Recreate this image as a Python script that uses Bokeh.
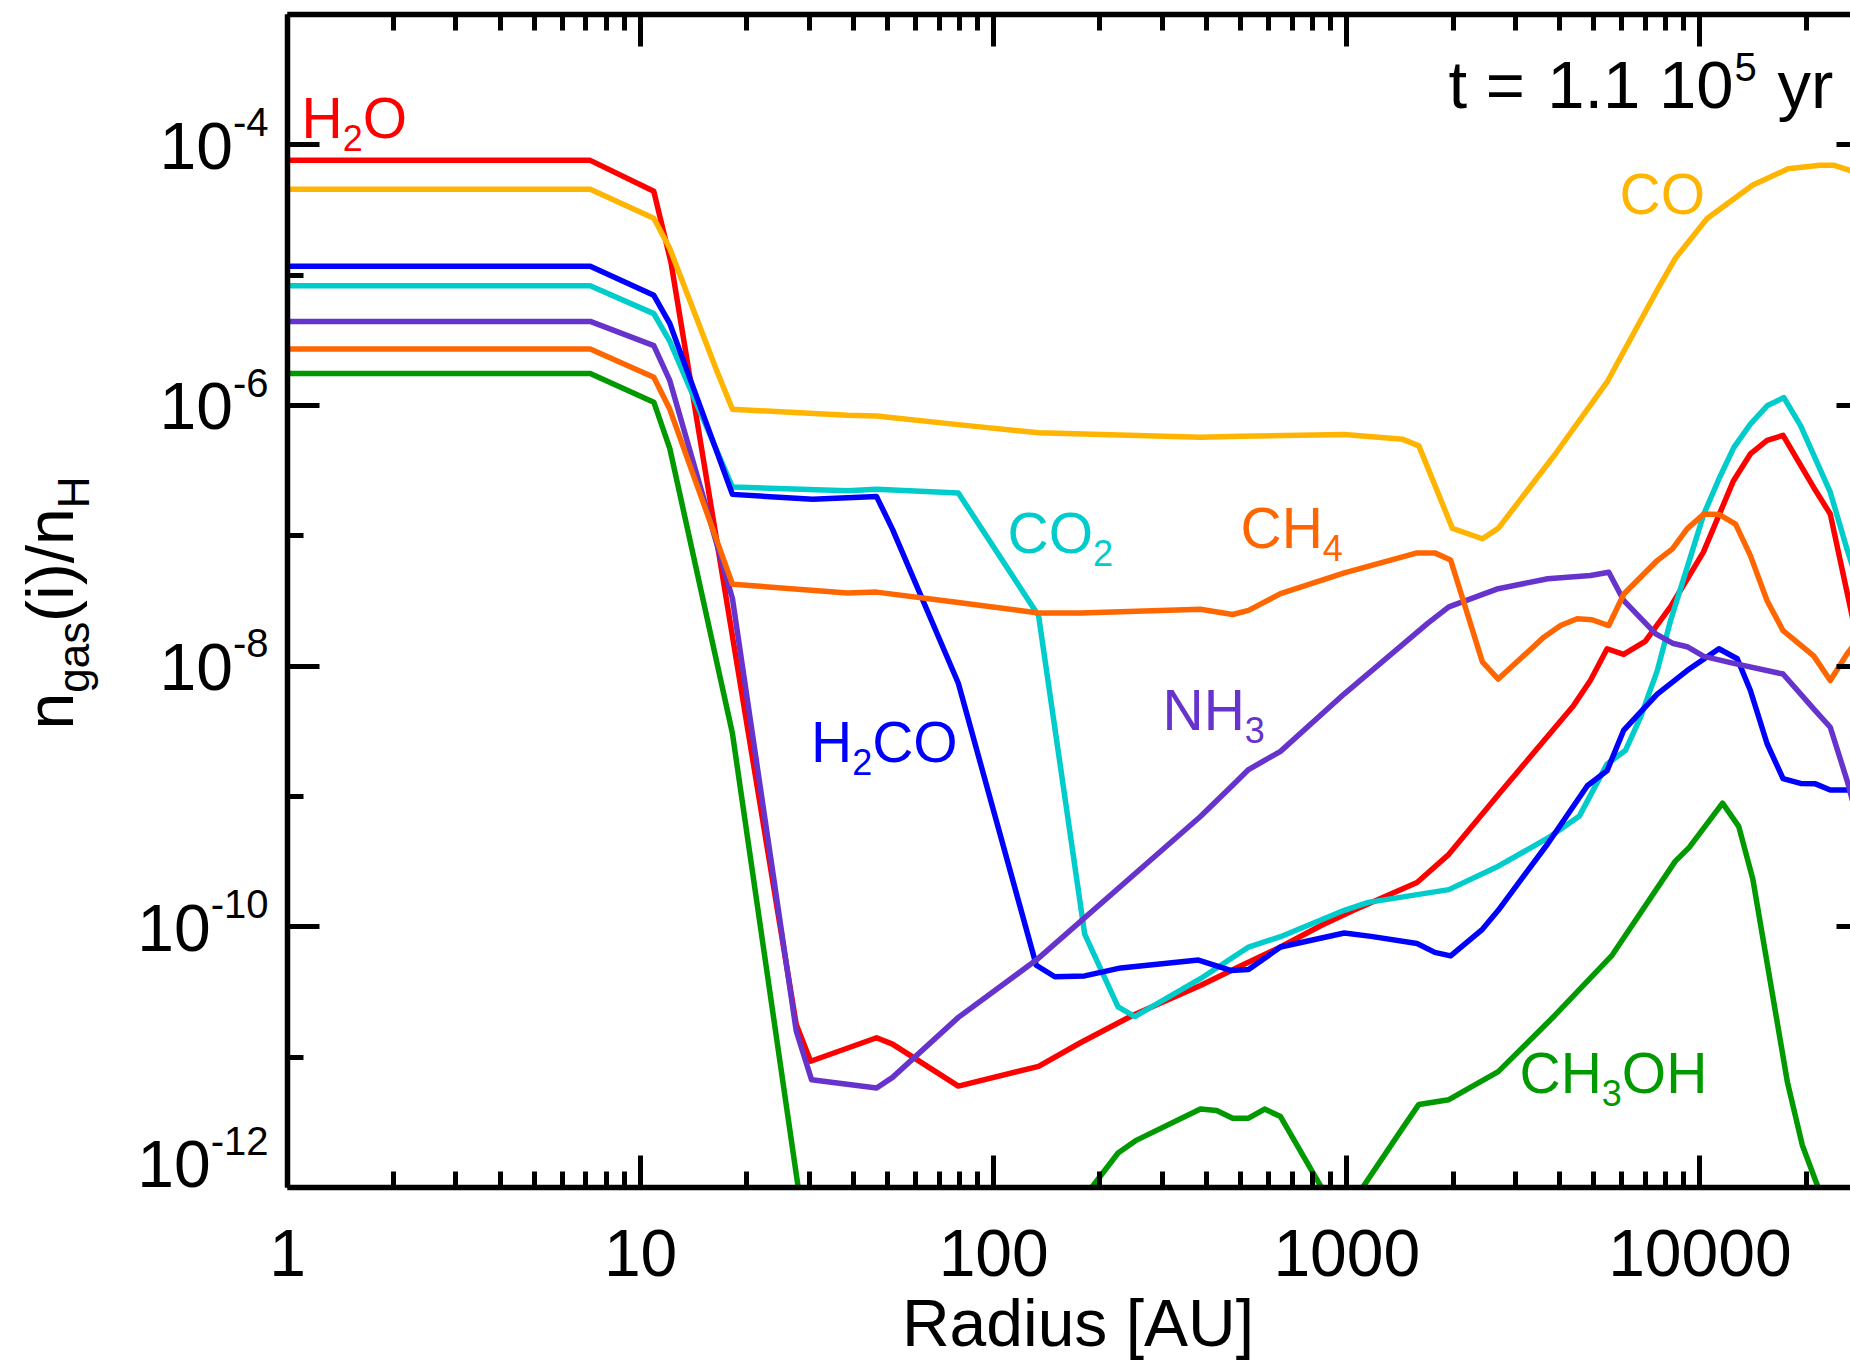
import math
import re
from bokeh.plotting import figure
from bokeh.models import (Range1d, FixedTicker, LogAxis, Label, BoxAnnotation,
                          CustomJSTickFormatter, PrintfTickFormatter)
from bokeh.embed import file_html
from bokeh.resources import INLINE

# ---------------- data (radius in AU, gas abundance n_gas(i)/n_H) ----------------
h2o_r = [1, 7.2, 10.9, 12.2, 27.6, 30.3, 46.6, 51.7, 79.4, 134, 176, 247, 385, 500, 649,
         843, 1038, 1581, 1945, 2685, 4390, 4900, 5460, 6080, 7000, 8300, 10230, 12450,
         13900, 15500, 17200, 21000, 23400, 26100, 28500]
h2o_n = [7.6e-5, 7.6e-5, 4.4e-5, 1.24e-5, 1.78e-11, 9.3e-12, 1.41e-11, 1.26e-11, 6.0e-12,
         8.5e-12, 1.29e-11, 2.09e-11, 3.55e-11, 5.0e-11, 7.0e-11, 1.02e-10, 1.33e-10,
         2.19e-10, 3.6e-10, 1.03e-9, 5.0e-9, 7.8e-9, 1.36e-8, 1.23e-8, 1.55e-8, 2.92e-8,
         7.5e-8, 2.65e-7, 4.25e-7, 5.4e-7, 5.9e-7, 2.35e-7, 1.47e-7, 3.7e-8, 1.23e-8]

co_r = [1, 7.2, 10.9, 12.1, 16.4, 18.2, 38.5, 46.6, 80.5, 134, 385, 500, 984, 1442, 1600,
        1991, 2421, 2685, 3882, 5480, 7570, 8510, 10480, 14120, 17780, 21880, 24000, 26900]
co_n = [4.57e-5, 4.57e-5, 2.73e-5, 1.6e-5, 1.87e-6, 9.35e-7, 8.4e-7, 8.3e-7, 7.1e-7,
        6.17e-7, 5.7e-7, 5.8e-7, 6.0e-7, 5.5e-7, 4.9e-7, 1.14e-7, 9.5e-8, 1.14e-7, 4.19e-7,
        1.54e-6, 7.7e-6, 1.34e-5, 2.72e-5, 4.92e-5, 6.55e-5, 6.97e-5, 6.97e-5, 6.3e-5]

co2_r = [1, 7.2, 10.9, 12.1, 18.2, 38.5, 46.6, 79.4, 134, 181, 225, 251, 385, 527, 649, 984,
         1151, 1945, 2685, 3707, 4560, 5460, 6150, 6790, 7570, 8260, 9200, 10260, 11320,
         12480, 13900, 15500, 17290, 19280, 23400, 26100, 28500]
co2_n = [8.3e-6, 8.3e-6, 5.07e-6, 3.1e-6, 2.37e-7, 2.22e-7, 2.28e-7, 2.13e-7, 2.44e-8,
         8.8e-11, 2.43e-11, 2.05e-11, 4.0e-11, 7.0e-11, 8.4e-11, 1.34e-10, 1.54e-10,
         1.93e-10, 2.92e-10, 4.79e-10, 7.1e-10, 1.78e-9, 2.25e-9, 4.06e-9, 9.2e-9, 2.24e-8,
         5.7e-8, 1.47e-7, 2.73e-7, 4.77e-7, 7.2e-7, 9.95e-7, 1.15e-6, 7.0e-7, 2.16e-7,
         7.9e-8, 3.8e-8]

h2co_r = [1, 7.2, 10.9, 12.1, 18.2, 30.7, 46.6, 51.7, 79.4, 132, 149, 181, 229, 380, 469,
          527, 649, 984, 1172, 1581, 1775, 1968, 2421, 2685, 3707, 4800, 5460, 6080, 7570,
          9200, 11320, 12760, 13900, 15500, 17200, 19280, 21250, 23400, 28500]
h2co_n = [1.17e-5, 1.17e-5, 7.0e-6, 4.25e-6, 2.08e-7, 1.91e-7, 2.0e-7, 1.12e-7, 7.4e-9,
          5.07e-11, 4.14e-11, 4.2e-11, 4.84e-11, 5.56e-11, 4.63e-11, 4.7e-11, 7.0e-11,
          8.97e-11, 8.45e-11, 7.46e-11, 6.37e-11, 5.98e-11, 9.57e-11, 1.34e-10, 4.34e-10,
          1.21e-9, 1.58e-9, 3.21e-9, 6.1e-9, 9.25e-9, 1.36e-8, 1.14e-8, 6.5e-9, 2.54e-9,
          1.37e-9, 1.26e-9, 1.25e-9, 1.12e-9, 1.12e-9]

nh3_r = [1, 7.2, 10.9, 12.1, 18.2, 27.6, 30.5, 46.6, 51.7, 79.4, 132, 385, 475, 527, 649,
         984, 1694, 1945, 2685, 3707, 4900, 5520, 6090, 7500, 8360, 9200, 10260, 12480,
         17200, 21000, 23400, 26100, 28500]
nh3_n = [4.42e-6, 4.42e-6, 2.88e-6, 1.55e-6, 3.31e-8, 1.58e-11, 6.7e-12, 5.8e-12, 7.0e-12,
         2.02e-11, 5.56e-11, 7.03e-10, 1.22e-9, 1.61e-9, 2.22e-9, 6.14e-9, 2.13e-8, 2.85e-8,
         3.93e-8, 4.68e-8, 4.96e-8, 5.25e-8, 3.18e-8, 1.77e-8, 1.5e-8, 1.41e-8, 1.19e-8,
         1.05e-8, 8.7e-9, 4.7e-9, 3.4e-9, 1.33e-9, 5.5e-10]

ch4_r = [1, 7.2, 10.9, 12.1, 18.2, 38.5, 46.6, 79.4, 134, 176, 385, 475, 527, 649, 984,
         1581, 1775, 1968, 2421, 2685, 3614, 4030, 4490, 4950, 5520, 6090, 7570, 8360, 9200,
         10260, 11320, 12620, 13900, 15500, 17200, 21000, 23400, 26100, 28500]
ch4_n = [2.71e-6, 2.71e-6, 1.65e-6, 9.35e-7, 4.26e-8, 3.64e-8, 3.7e-8, 3.08e-8, 2.56e-8,
         2.56e-8, 2.73e-8, 2.49e-8, 2.68e-8, 3.6e-8, 5.2e-8, 7.4e-8, 7.4e-8, 6.53e-8,
         1.08e-8, 7.96e-9, 1.67e-8, 2.05e-8, 2.31e-8, 2.27e-8, 2.05e-8, 3.58e-8, 6.46e-8,
         7.94e-8, 1.13e-7, 1.47e-7, 1.46e-7, 1.23e-7, 7.05e-8, 3.18e-8, 1.87e-8, 1.2e-8,
         7.76e-9, 1.24e-8, 1.69e-8]

ch3oh_r = [1, 7.2, 10.9, 12.1, 18.2, 30.3, 46.6, 100, 176, 225, 254, 385, 428, 475, 527,
           585, 649, 960, 1442, 1600, 1945, 2685, 3882, 5620, 8510, 9330, 11590, 12880,
           14120, 17700, 19500, 24000, 28500]
ch3oh_n = [1.76e-6, 1.76e-6, 1.06e-6, 4.67e-7, 3.05e-9, 2.2e-13, 1e-16, 1e-15, 7.7e-13,
           1.84e-12, 2.31e-12, 4.0e-12, 3.9e-12, 3.4e-12, 3.4e-12, 4.0e-12, 3.5e-12,
           5.6e-13, 2.88e-12, 4.34e-12, 4.72e-12, 7.74e-12, 2.09e-11, 5.98e-11, 3.18e-10,
           4.07e-10, 8.9e-10, 5.9e-10, 2.33e-10, 6.4e-12, 2.11e-12, 4.7e-13, 1.4e-13]

species = ["H2O", "CO", "CO2", "H2CO", "NH3", "CH4", "CH3OH"]
colors = ["#FF0000", "#FFB400", "#00CCCC", "#0000FF", "#6633CC", "#FF6600", "#009900"]
radii = [h2o_r, co_r, co2_r, h2co_r, nh3_r, ch4_r, ch3oh_r]
abund = [h2o_n, co_n, co2_n, h2co_n, nh3_n, ch4_n, ch3oh_n]

x_limits = (1, 3e4)          # radius axis of the original plot
y_limits = (1e-12, 1e-3)     # abundance axis
x_major = [1, 10, 100, 1000, 10000]
x_minor = [m * d for d in [1, 10, 100, 1000, 10000] for m in range(2, 10)] + [3e4]
y_major_exp = [-4, -6, -8, -10, -12]
y_minor_exp = [-3, -5, -7, -9, -11]
time_text = ("t =", "1.1 10", "5", "yr")
x_title = "Radius [AU]"

# ---------------- layout (page pixels; the plot frame spans the whole canvas) ----------------
FONT = "Liberation Sans"
FIG_W, FIG_H = 1850, 1361
AX_L, AX_T, AX_B = 287, 14, 1187     # pixel of x=1, y=1e-3, y=1e-12
DEC_X = 353.1
DEC_Y = (AX_B - AX_T) / 9.0
BASE_SHIFT = 0.35                    # label anchor vs. drawn baseline (em)


def rx(px):
    return 10 ** ((px - AX_L) / DEC_X)


def ny(py):
    return 10 ** (-3 - (py - AX_T) / DEC_Y)


p = figure(width=FIG_W, height=FIG_H, x_axis_type="log", y_axis_type="log",
           x_axis_location=None, y_axis_location=None,
           x_range=Range1d(rx(0), rx(FIG_W)), y_range=Range1d(ny(FIG_H), ny(0)),
           output_backend="svg", toolbar_location=None, title=None,
           min_border=0, min_border_left=0, min_border_right=0,
           min_border_top=0, min_border_bottom=0)
p.outline_line_color = None
p.grid.visible = False
p.background_fill_color = "white"
p.border_fill_color = "white"

for r, n, c in zip(radii, abund, colors):
    p.line(r, n, line_color=c, line_width=5.5, line_join="round")

# keep the curves inside the axes box (white mask under the bottom axis)
p.add_layout(BoxAnnotation(top=y_limits[0], fill_color="white", fill_alpha=1.0,
                           line_color=None))

xt = FixedTicker(ticks=x_major, minor_ticks=x_minor)
yt = FixedTicker(ticks=[10.0 ** e for e in y_major_exp],
                 minor_ticks=[10.0 ** e for e in y_minor_exp])
blank = CustomJSTickFormatter(code="return ''")


def make_axis(loc, bounds, ticker, show_labels=False):
    ax = LogAxis(fixed_location=loc, bounds=bounds, ticker=ticker, level="overlay")
    ax.axis_line_width = 5.5
    ax.axis_line_color = "black"
    ax.major_tick_in = 32
    ax.major_tick_out = 0
    ax.minor_tick_in = 16
    ax.minor_tick_out = 0
    ax.major_tick_line_width = 5
    ax.minor_tick_line_width = 5
    ax.major_tick_line_color = "black"
    ax.minor_tick_line_color = "black"
    if show_labels:
        ax.formatter = PrintfTickFormatter(format="%d")
        ax.major_label_text_font = FONT
        ax.major_label_text_font_size = "66px"
        ax.major_label_text_color = "black"
        ax.major_label_standoff = 42
    else:
        ax.formatter = blank
        ax.major_label_text_font_size = "0px"
        ax.major_label_standoff = 0
    return ax


p.add_layout(make_axis(y_limits[0], x_limits, xt, show_labels=True), "below")
p.add_layout(make_axis(y_limits[1], x_limits, xt), "above")
p.add_layout(make_axis(x_limits[0], y_limits, yt), "left")
p.add_layout(make_axis(x_limits[1], y_limits, yt), "right")

# ---------------- text ----------------
ADV = {"H": .722, "O": .778, "C": .722, "N": .722, "-": .333, "(": .333, ")": .333,
       "i": .222, "/": .278, "n": .556, "g": .556, "a": .556, "s": .5, " ": .278,
       ".": .278, "t": .278, "=": .584, "y": .5, "r": .333}


def adv(s, size):
    return sum(ADV.get(ch, .556) for ch in s) * size


def add_text(px, py, text, size, color="black", align="left", angle=0.0):
    # (px, py) is the wanted baseline position of the text
    if angle == 0.0:
        py = py - BASE_SHIFT * size
    else:
        px = px - BASE_SHIFT * size
    p.add_layout(Label(x=rx(px), y=ny(py), text=text, text_font=FONT,
                       text_font_size=f"{size}px", text_color=color,
                       text_align=align, text_baseline="alphabetic", angle=angle))


def formula(name, px, py, color, size=57, sub=36, drop=13):
    x = px
    for run in re.findall(r"[A-Za-z]+|\d+", name):
        if run.isdigit():
            add_text(x, py + drop, run, sub, color)
            x += adv(run, sub)
        else:
            add_text(x, py, run, size, color)
            x += adv(run, size)


label_pos = {"H2O": (301, 137), "CO": (1619, 213), "CO2": (1007, 552),
             "H2CO": (810.5, 761), "NH3": (1162, 729), "CH4": (1240, 547),
             "CH3OH": (1519, 1092)}
for name, c in zip(species, colors):
    formula(name, *label_pos[name], c)

# y tick labels 10^e
for e in y_major_exp:
    tick_py = AX_T + (-3 - e) * DEC_Y
    base = tick_py + 24 if e > -12 else tick_py
    sup = str(e)
    add_text(268, base - 33, sup, 40, align="right")
    add_text(268 - adv(sup, 40), base, "10", 66, align="right")

# y axis title n_gas(i)/n_H (rotated)
yy = 729
for run, is_sub in [("n", 0), ("gas", 1), ("(i)/n", 0), ("H", 1)]:
    size = 44 if is_sub else 66
    add_text(88 if is_sub else 73, yy, run, size, angle=math.pi / 2)
    yy -= adv(run, size)

# x axis title
add_text(1077.5, 1346, x_title, 66, align="center")

# time stamp
add_text(1448, 107, time_text[0], 67)
add_text(1733, 107, time_text[1], 67, align="right")
add_text(1734, 80, time_text[2], 40)
add_text(1777, 107, time_text[3], 67)

open("out.html", "w").write(file_html(p, INLINE, title="abundances"))
